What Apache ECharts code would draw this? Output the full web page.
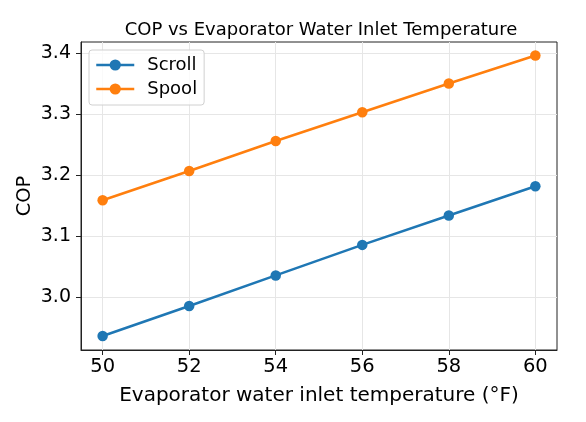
<!DOCTYPE html>
<html>
<head>
<meta charset="utf-8">
<script src="https://cdn.jsdelivr.net/npm/echarts@6/dist/echarts.min.js"></script>
<style>
  html, body { margin: 0; padding: 0; background: #fff; }
  #chart { width: 586px; height: 422px; }
</style>
</head>
<body>
<div id="chart"></div>
<script>
// data
const temps = [50, 52, 54, 56, 58, 60];
const scrollCop = [2.937, 2.986, 3.036, 3.086, 3.134, 3.182];
const spoolCop = [3.159, 3.207, 3.256, 3.303, 3.350, 3.396];
const xTicks = [50, 52, 54, 56, 58, 60];
const yTicks = [3.0, 3.1, 3.2, 3.3, 3.4];

const font = 'DejaVu Sans';

function pairs(xs, ys) {
    return xs.map(function (x, i) { return [x, ys[i]]; });
}

const dom = document.getElementById('chart');
const myChart = echarts.init(dom, null, { renderer: 'canvas' });

const option = {
    animation: false,
    backgroundColor: '#fff',
    textStyle: { fontFamily: font, color: '#000' },
    title: {
        text: 'COP vs Evaporator Water Inlet Temperature',
        left: 316,
        top: 16,
        textAlign: 'center',
        textStyle: { fontFamily: font, fontSize: 18, fontWeight: 'normal', color: '#000' }
    },
    legend: {
        orient: 'vertical',
        left: 89,
        top: 50,
        itemWidth: 38,
        itemHeight: 14,
        itemGap: 6,
        padding: [6, 7, 7, 6],
        backgroundColor: 'rgba(255,255,255,0.8)',
        borderColor: '#d0d0d0',
        borderWidth: 1,
        borderRadius: 3,
        lineStyle: { width: 2.5 },
        textStyle: { fontFamily: font, fontSize: 18, color: '#000', padding: [0, 0, 0, 8] },
        data: ['Scroll', 'Spool']
    },
    grid: {
        left: 81,
        right: 29,
        top: 42,
        bottom: 72,
        show: true,
        borderColor: '#222',
        borderWidth: 1,
        containLabel: false,
        outerBoundsMode: 'none'
    },
    xAxis: {
        type: 'value',
        min: 49.5,
        max: 60.5,
        name: 'Evaporator water inlet temperature (°F)',
        nameLocation: 'middle',
        nameGap: 36,
        nameMoveOverlap: false,
        nameTextStyle: { fontFamily: font, fontSize: 20, color: '#000' },
        axisLine: { show: true, onZero: false, lineStyle: { color: '#222', width: 1 } },
        axisTick: { show: true, length: 5, customValues: xTicks, lineStyle: { color: '#222' } },
        axisLabel: { customValues: xTicks, fontFamily: font, fontSize: 19.5, color: '#000', margin: 7 },
        splitLine: { show: true, lineStyle: { color: '#e6e6e6', width: 1 } }
    },
    yAxis: {
        type: 'value',
        min: 2.914,
        max: 3.418,
        name: 'COP',
        nameLocation: 'middle',
        nameGap: 46,
        nameMoveOverlap: false,
        nameTextStyle: { fontFamily: font, fontSize: 19.5, color: '#000' },
        axisLine: { show: true, onZero: false, lineStyle: { color: '#222', width: 1 } },
        axisTick: { show: true, length: 5, customValues: yTicks, lineStyle: { color: '#222' } },
        axisLabel: {
            customValues: yTicks, fontFamily: font, fontSize: 19, color: '#000', margin: 10,
            formatter: function (v) { return v.toFixed(1); }
        },
        splitLine: { show: true, lineStyle: { color: '#e6e6e6', width: 1 } }
    },
    series: [{
        name: 'Scroll',
        type: 'line',
        data: pairs(temps, scrollCop),
        symbol: 'circle',
        symbolSize: 10.5,
        color: '#1f77b4',
        lineStyle: { width: 2.5, color: '#1f77b4' },
        itemStyle: { color: '#1f77b4' }
    }, {
        name: 'Spool',
        type: 'line',
        data: pairs(temps, spoolCop),
        symbol: 'circle',
        symbolSize: 10.5,
        color: '#ff7f0e',
        lineStyle: { width: 2.5, color: '#ff7f0e' },
        itemStyle: { color: '#ff7f0e' }
    }]
};

if (option && typeof option === 'object') {
    myChart.setOption(option, true);
}
</script>
</body>
</html>
